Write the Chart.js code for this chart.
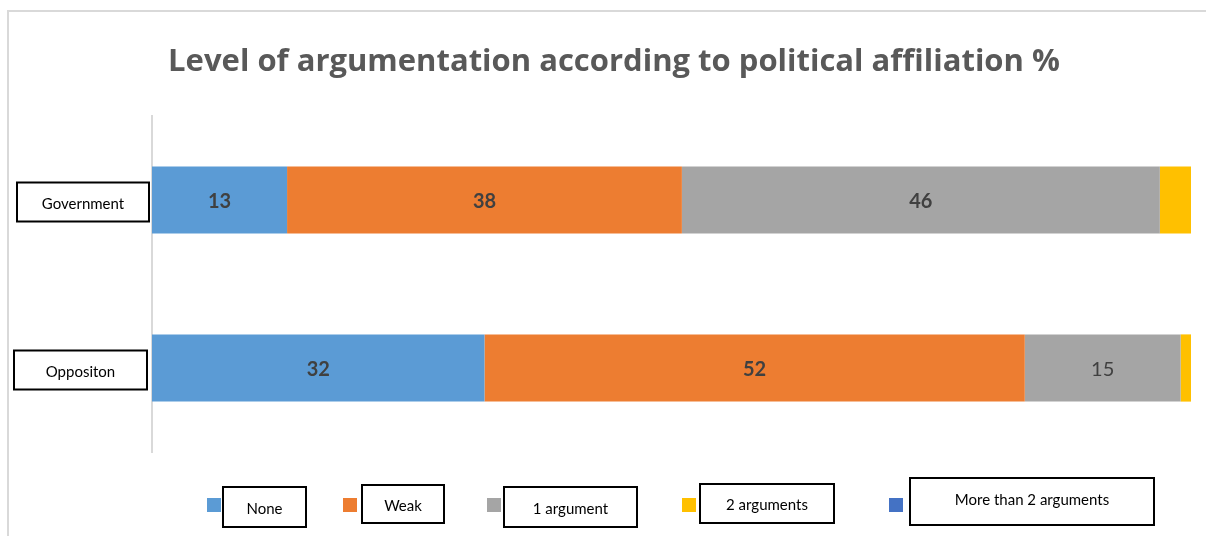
<!DOCTYPE html>
<html>
<head>
<meta charset="utf-8">
<script src="https://cdn.jsdelivr.net/npm/chart.js@4"></script>
<style>
  html, body { margin: 0; padding: 0; background: #fff; }
  #wrap { width: 1207px; height: 536px; }
</style>
</head>
<body>
<div id="wrap"><canvas id="grafico" width="1207" height="536"></canvas></div>
<script>
// Datos (porcentajes por afiliación)
const grupos = ["Government", "Oppositon"];
const niveles = ["None", "Weak", "1 argument", "2 arguments", "More than 2 arguments"];
const ninguno = [13, 32];
const debil = [38, 52];
const unArgumento = [46, 15];
const dosArgumentos = [3, 1];
const masDeDos = [0, 0];
const colores = ["#5B9BD5", "#ED7D31", "#A5A5A5", "#FFC000", "#4472C4"];

const titulo = "Level of argumentation according to political affiliation %";
const fuente = "Lato, 'Open Sans', sans-serif";
const fuenteTitulo = "'Open Sans', Lato, sans-serif";

// Cajas de la leyenda: marcador y recuadro de cada etiqueta
const cajasLeyenda = [
  { mx: 207, box: [223, 487, 83, 40] },
  { mx: 343, box: [362, 485, 82, 38] },
  { mx: 487, box: [504, 487, 133, 40] },
  { mx: 682, box: [700, 484, 134, 39] },
  { mx: 889, box: [910, 478, 244, 47], textoArriba: true }
];
// Recuadros de las categorías (x, ancho, alto)
const cajasGrupo = [
  { x: 17, w: 132, h: 39 },
  { x: 14, w: 133, h: 39 }
];

const serie = [ninguno, debil, unArgumento, dosArgumentos, masDeDos];

const marcoYTitulo = {
  id: 'marcoYTitulo',
  beforeDraw(chart) {
    const ctx = chart.ctx;
    ctx.save();
    ctx.strokeStyle = '#d9d9d9';
    ctx.lineWidth = 2;
    ctx.beginPath();
    ctx.moveTo(8, 540);
    ctx.lineTo(8, 11);
    ctx.lineTo(1206, 11);
    ctx.stroke();
    ctx.fillStyle = '#595959';
    ctx.font = "bold 31px " + fuenteTitulo;
    ctx.textAlign = 'center';
    ctx.textBaseline = 'middle';
    ctx.fillText(titulo, 614, 62);
    ctx.restore();
  }
};

const etiquetas = {
  id: 'etiquetas',
  afterDatasetsDraw(chart) {
    const ctx = chart.ctx;
    ctx.save();
    ctx.textAlign = 'center';
    ctx.textBaseline = 'middle';
    chart.data.datasets.forEach((ds, i) => {
      const meta = chart.getDatasetMeta(i);
      meta.data.forEach((bar, j) => {
        const v = ds.data[j];
        if (v < 5) return;
        const normal = (i === 2 && j === 1);
        ctx.font = (normal ? "" : "bold ") + "20px " + fuente;
        ctx.fillStyle = '#404040';
        ctx.fillText(String(v), (bar.x + bar.base) / 2, bar.y + 2);
      });
    });

    // Categorías con recuadro
    const y = chart.scales.y;
    ctx.font = "15px " + fuente;
    ctx.strokeStyle = '#000';
    ctx.lineWidth = 2;
    grupos.forEach((g, j) => {
      const c = cajasGrupo[j];
      const cy = y.getPixelForValue(j) + 2;
      ctx.strokeRect(c.x, cy - c.h / 2, c.w, c.h);
      ctx.fillStyle = '#000';
      ctx.fillText(g, c.x + c.w / 2, cy + 2);
    });

    // Leyenda
    chart.data.datasets.forEach((ds, i) => {
      const c = cajasLeyenda[i];
      ctx.fillStyle = ds.backgroundColor;
      ctx.fillRect(c.mx, 498, 14, 14);
      const [bx, by, bw, bh] = c.box;
      ctx.strokeRect(bx, by, bw, bh);
      ctx.fillStyle = '#000';
      ctx.fillText(ds.label, bx + bw / 2, c.textoArriba ? by + 22 : by + bh / 2 + 2);
    });
    ctx.restore();
  }
};

const ctx = document.getElementById('grafico').getContext('2d');
new Chart(ctx, {
  type: 'bar',
  data: {
    labels: grupos,
    datasets: niveles.map((n, i) => ({
      label: n,
      data: serie[i],
      backgroundColor: colores[i],
      borderWidth: 0,
      barPercentage: 0.5,
      categoryPercentage: 0.8
    }))
  },
  options: {
    indexAxis: 'y',
    responsive: false,
    animation: false,
    layout: { padding: { left: 152, right: 16, top: 116, bottom: 84 } },
    plugins: {
      legend: { display: false },
      title: { display: false },
      tooltip: { enabled: false }
    },
    scales: {
      x: { stacked: true, min: 0, max: 100, display: false },
      y: {
        stacked: true,
        grid: { display: false },
        border: { display: true, color: '#d9d9d9', width: 2 },
        ticks: { display: false },
        afterFit(s) { s.width = 0; }
      }
    }
  },
  plugins: [marcoYTitulo, etiquetas]
});
</script>
</body>
</html>
